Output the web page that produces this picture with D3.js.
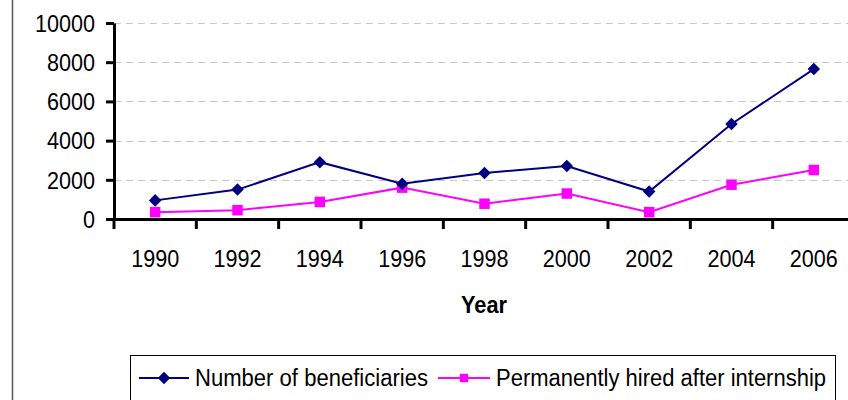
<!DOCTYPE html>
<html>
<head>
<meta charset="utf-8">
<script src="https://cdn.jsdelivr.net/npm/d3@7"></script>
<style>
  body { margin: 0; background: #fff; }
  svg { display: block; font-family: "Liberation Sans", Arial, sans-serif; }
</style>
</head>
<body>
<svg id="chart" width="848" height="400"></svg>
<script>
const years = ["1990", "1992", "1994", "1996", "1998", "2000", "2002", "2004", "2006"];
const beneficiaries = [950, 1500, 2900, 1800, 2350, 2700, 1400, 4850, 7650];
const hired = [350, 450, 870, 1600, 780, 1300, 350, 1750, 2500];
const yTicks = [0, 2000, 4000, 6000, 8000, 10000];
const seriesNames = ["Number of beneficiaries", "Permanently hired after internship"];

const svg = d3.select("#chart");
const plotLeft = 114, plotRight = 855, plotTop = 23, plotBottom = 219;
const fontSize = 23, digitWidth = 12;

const x = d3.scaleBand().domain(years).range([plotLeft, plotRight]).padding(0);
const y = d3.scaleLinear().domain([0, 10000]).range([plotBottom, plotTop]);
const cx = d => x(d) + x.bandwidth() / 2;

// outer border on the left
svg.append("line")
  .attr("x1", 12.5).attr("x2", 12.5).attr("y1", 0).attr("y2", 400)
  .attr("stroke", "#595959").attr("stroke-width", 1.5);

// gridlines
svg.append("g")
  .selectAll("line")
  .data(yTicks.filter(t => t > 0))
  .join("line")
  .attr("x1", plotLeft).attr("x2", 848)
  .attr("y1", d => Math.round(y(d)) + 0.5).attr("y2", d => Math.round(y(d)) + 0.5)
  .attr("stroke", "#c8c8c8").attr("stroke-width", 1.2)
  .attr("stroke-dasharray", "7,5");

// y axis
const yAxis = svg.append("g")
  .attr("transform", `translate(${plotLeft},0)`)
  .call(d3.axisLeft(y).tickValues(yTicks).tickFormat(d3.format("d")).tickSize(8).tickPadding(11).tickSizeOuter(0));
yAxis.select(".domain").attr("stroke", "#000").attr("stroke-width", 3);
yAxis.selectAll(".tick line").attr("stroke", "#000").attr("stroke-width", 3);
yAxis.selectAll(".tick text")
  .attr("font-size", fontSize).attr("fill", "#000").attr("font-family", "Liberation Sans, Arial, sans-serif")
  .attr("dy", "0.36em")
  .attr("textLength", d => String(d).length * digitWidth).attr("lengthAdjust", "spacingAndGlyphs");

// x axis, ticks between categories
const xAxis = svg.append("g")
  .attr("transform", `translate(0,${plotBottom})`)
  .call(d3.axisBottom(x).tickSize(10).tickSizeOuter(0));
xAxis.select(".domain").attr("stroke", "#000").attr("stroke-width", 3);
xAxis.selectAll(".tick line")
  .attr("stroke", "#000").attr("stroke-width", 3)
  .attr("transform", `translate(${-x.bandwidth() / 2},0)`);
xAxis.selectAll(".tick text")
  .attr("y", 48).attr("dy", 0)
  .attr("font-size", fontSize).attr("fill", "#000").attr("font-family", "Liberation Sans, Arial, sans-serif")
  .attr("textLength", d => d.length * digitWidth).attr("lengthAdjust", "spacingAndGlyphs");

// axis title
svg.append("text")
  .attr("x", 484).attr("y", 313)
  .attr("text-anchor", "middle")
  .attr("font-size", fontSize).attr("font-weight", "bold")
  .attr("textLength", 46).attr("lengthAdjust", "spacingAndGlyphs")
  .text("Year");

// lines
const line = d3.line().x((d, i) => cx(years[i])).y(d => y(d));

svg.append("path").datum(hired)
  .attr("d", line).attr("fill", "none").attr("stroke", "#ff00ff").attr("stroke-width", 2);
svg.append("path").datum(beneficiaries)
  .attr("d", line).attr("fill", "none").attr("stroke", "#000080").attr("stroke-width", 2);

const diamond = d3.symbol().type(d3.symbolDiamond2).size(100);
const square = d3.symbol().type(d3.symbolSquare).size(110);

svg.append("g").selectAll("path")
  .data(hired)
  .join("path")
  .attr("d", square)
  .attr("transform", (d, i) => `translate(${cx(years[i])},${y(d)})`)
  .attr("fill", "#ff00ff");

svg.append("g").selectAll("path")
  .data(beneficiaries)
  .join("path")
  .attr("d", diamond)
  .attr("transform", (d, i) => `translate(${cx(years[i])},${y(d)})`)
  .attr("fill", "#000080");

// legend
const legend = svg.append("g");
legend.append("rect")
  .attr("x", 130.5).attr("y", 355.5).attr("width", 705).attr("height", 60)
  .attr("fill", "#fff").attr("stroke", "#000").attr("stroke-width", 1);

const legendItems = [
  { name: seriesNames[0], color: "#000080", sym: diamond, x0: 139, x1: 189, tx: 195, tw: 233 },
  { name: seriesNames[1], color: "#ff00ff", sym: d3.symbol().type(d3.symbolSquare).size(70), x0: 438, x1: 490, tx: 496, tw: 330 }
];
legendItems.forEach(it => {
  legend.append("line")
    .attr("x1", it.x0).attr("x2", it.x1).attr("y1", 378).attr("y2", 378)
    .attr("stroke", it.color).attr("stroke-width", 2);
  legend.append("path")
    .attr("d", it.sym)
    .attr("transform", `translate(${(it.x0 + it.x1) / 2},378)`)
    .attr("fill", it.color);
  legend.append("text")
    .attr("x", it.tx).attr("y", 386)
    .attr("font-size", fontSize)
    .attr("textLength", it.tw).attr("lengthAdjust", "spacingAndGlyphs")
    .text(it.name);
});
</script>
</body>
</html>
